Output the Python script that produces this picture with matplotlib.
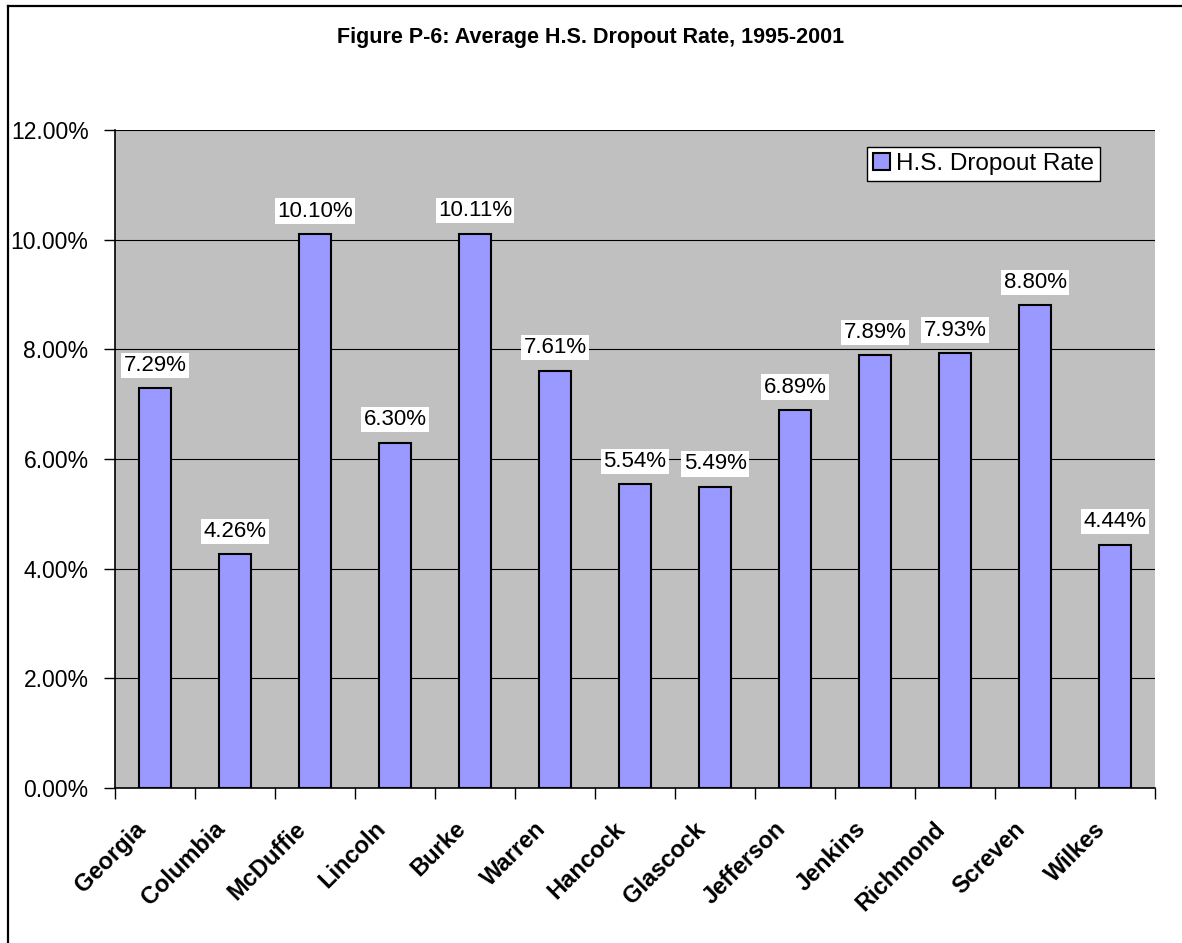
import matplotlib
matplotlib.use("Agg")
import matplotlib.pyplot as plt
from matplotlib.lines import Line2D
from matplotlib.ticker import FuncFormatter, MultipleLocator, FixedLocator
from matplotlib.transforms import ScaledTranslation

plt.rcParams['font.family'] = ['Liberation Sans', 'DejaVu Sans']

counties = ["Georgia", "Columbia", "McDuffie", "Lincoln", "Burke", "Warren", "Hancock",
            "Glascock", "Jefferson", "Jenkins", "Richmond", "Screven", "Wilkes"]
dropout_rate = [7.29, 4.26, 10.10, 6.30, 10.11, 7.61, 5.54, 5.49, 6.89, 7.89, 7.93, 8.80, 4.44]
series_name = "H.S. Dropout Rate"
title = "Figure P-6: Average H.S. Dropout Rate, 1995-2001"

W, H = 1182, 943
fig = plt.figure(figsize=(W / 100, H / 100), dpi=100)
fig.patch.set_facecolor("white")
# outer chart border (top and left visible)
fig.add_artist(Line2D([8 / W, 1.0], [(H - 6) / H] * 2, transform=fig.transFigure,
                      color="black", linewidth=1.6))
fig.add_artist(Line2D([8 / W] * 2, [0, (H - 6) / H], transform=fig.transFigure,
                      color="black", linewidth=1.6))

ax = fig.add_axes([115 / W, (H - 788) / H, (1155 - 115) / W, (788 - 130) / H])
ax.set_facecolor("#C0C0C0")

x = list(range(len(counties)))
ax.bar(x, dropout_rate, width=0.41, color="#9999FF", edgecolor="black", linewidth=1.5,
       label=series_name, zorder=3)

ax.set_xlim(-0.5, len(counties) - 0.5)
ax.set_ylim(0, 12)
ax.yaxis.set_major_locator(MultipleLocator(2))
ax.yaxis.set_major_formatter(FuncFormatter(lambda v, p: f"{v:.2f}%"))
ax.grid(axis="y", color="black", linewidth=0.8, zorder=1)

ax.set_xticks(x)
ax.set_xticklabels(counties, rotation=45, ha="right", va="center", rotation_mode="anchor",
                   fontsize=17, fontweight="bold")
ax.tick_params(axis="x", which="major", length=0, pad=27)
shift = ScaledTranslation(-13 / 100, 0, fig.dpi_scale_trans)
for lab in ax.get_xticklabels():
    lab.set_transform(lab.get_transform() + shift)
ax.xaxis.set_minor_locator(FixedLocator([i - 0.5 for i in range(len(counties) + 1)]))
ax.tick_params(axis="x", which="minor", length=8, width=1, direction="out")
ax.tick_params(axis="y", length=8, width=1, direction="out", labelsize=16.5, pad=11)

for s in ["top", "right"]:
    ax.spines[s].set_visible(False)
ax.spines["left"].set_linewidth(1.2)
ax.spines["bottom"].set_linewidth(1.2)

for xi, v in zip(x, dropout_rate):
    ax.annotate(f"{v:.2f}%", (xi, v), xytext=(0, 9), textcoords="offset points",
                ha="center", va="bottom", fontsize=16,
                bbox=dict(boxstyle="square,pad=0.1", facecolor="white", edgecolor="none"),
                zorder=5)

leg = ax.legend(loc="upper right", bbox_to_anchor=(0.947, 0.974), fontsize=17.5, frameon=True,
                fancybox=False, edgecolor="black", framealpha=1, handlelength=0.7,
                handleheight=0.7, handletextpad=0.25, borderpad=0.25, borderaxespad=0)
leg.get_frame().set_linewidth(1)

fig.text(0.5, (H - 38) / H, title, ha="center", va="center", fontsize=15.5, fontweight="bold")

fig.savefig("out.png", dpi=100)
